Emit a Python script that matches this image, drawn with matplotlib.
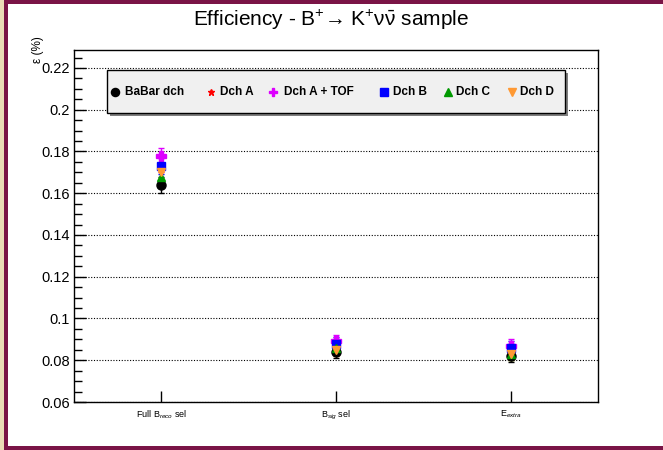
import matplotlib
matplotlib.use("Agg")
import matplotlib.pyplot as plt
from matplotlib.patches import Rectangle
from matplotlib.lines import Line2D
from matplotlib.ticker import MultipleLocator, FuncFormatter

plt.rcParams['font.family'] = ['Liberation Sans', 'DejaVu Sans']
plt.rcParams['mathtext.fontset'] = 'custom'
plt.rcParams['mathtext.rm'] = 'Liberation Sans'
plt.rcParams['mathtext.it'] = 'Liberation Sans:italic'
plt.rcParams['mathtext.bf'] = 'Liberation Sans:bold'

categories = ["Full B$_{reco}$ sel", "B$_{sig}$ sel", "E$_{extra}$"]
series_names = ["BaBar dch", "Dch A", "Dch A + TOF", "Dch B", "Dch C", "Dch D"]
babar = [0.164, 0.084, 0.082]
dch_a = [0.174, 0.087, 0.085]
dch_a_tof = [0.178, 0.089, 0.087]
dch_b = [0.173, 0.088, 0.086]
dch_c = [0.168, 0.086, 0.083]
dch_d = [0.170, 0.085, 0.083]
errors = [0.0038, 0.003, 0.003]
yticks = [0.06, 0.08, 0.10, 0.12, 0.14, 0.16, 0.18, 0.20, 0.22]

series = [babar, dch_a, dch_a_tof, dch_b, dch_c, dch_d]
colors = ['black', 'red', '#dd00ff', '#0000ff', '#009900', '#ff9933']
markers = ['o', '*', 'P', 's', '^', 'v']
msizes = [6.5, 5.5, 7, 6, 6, 6]

W, H = 663, 450
fig = plt.figure(figsize=(W/100, H/100), dpi=100)
fig.patch.set_facecolor('white')

# outer frame decoration
fig.add_artist(Rectangle((0, 0), 4/W, 1, transform=fig.transFigure, facecolor='#eadcb6', edgecolor='none'))
fig.add_artist(Rectangle((4/W, 0), 4/W, 1, transform=fig.transFigure, facecolor='#7a1446', edgecolor='none'))
fig.add_artist(Rectangle((4/W, 1-4/H), 1, 4/H, transform=fig.transFigure, facecolor='#7a1446', edgecolor='none'))
fig.add_artist(Rectangle((4/W, 0), 1, 4/H, transform=fig.transFigure, facecolor='#7a1446', edgecolor='none'))

ax = fig.add_axes([74/W, 1-402/H, 524/W, 352/H])
xpos = [0.5 + i for i in range(len(categories))]
for vals, c, m, ms in zip(series, colors, markers, msizes):
    ax.errorbar(xpos, vals, yerr=errors, fmt=m, color=c, ms=ms, mec=c, mfc=c,
                elinewidth=1, capsize=2.5, capthick=1, zorder=3)

ax.set_xlim(0, 3)
ax.set_ylim(0.06, 0.2286)
ax.set_xticks(xpos)
ax.set_xticklabels(categories, fontsize=6.5)
ax.set_yticks(yticks)
ax.yaxis.set_minor_locator(MultipleLocator(0.005))
ax.yaxis.set_major_formatter(FuncFormatter(lambda v, p: ('%.2f' % v).rstrip('0')))
ax.tick_params(axis='y', which='major', direction='in', length=8.5, width=1, labelsize=10.5, pad=3)
ax.tick_params(axis='y', which='minor', direction='in', length=5.5, width=1)
ax.tick_params(axis='x', which='major', direction='in', length=8, width=1, pad=5)
ax.tick_params(axis='x', which='minor', bottom=False)
for yv in yticks:
    ax.axhline(yv, color='black', lw=0.8, ls=(0, (1, 1.5)), zorder=1)
for s in ax.spines.values():
    s.set_linewidth(1)

fig.text(0.5, 1-20/H, "Efficiency - B$^{+}$→ K$^{+}\\mathrm{\\nu}\\bar{\\mathrm{\\nu}}$ sample",
         ha='center', va='center', fontsize=15)
fig.text(38/W, 1-50/H, "ε (%)", rotation=90, ha='center', va='center', fontsize=8.5)

# legend box
lx0, lx1, ly0, ly1 = 107, 565, 70, 113
fig.add_artist(Rectangle(((lx0+3)/W, 1-(ly1+3)/H), (lx1-lx0)/W, (ly1-ly0)/H,
                         transform=fig.transFigure, facecolor='#7f7f7f', edgecolor='none', zorder=5))
fig.add_artist(Rectangle((lx0/W, 1-ly1/H), (lx1-lx0)/W, (ly1-ly0)/H,
                         transform=fig.transFigure, facecolor='#f0f0f0', edgecolor='black', lw=1, zorder=6))
marker_x = [115, 211, 273, 384, 448, 512]
text_x = [125, 220, 284, 393, 456, 520]
ly = 92
for name, c, m, ms, mx, tx in zip(series_names, colors, markers, msizes, marker_x, text_x):
    fig.add_artist(Line2D([mx/W], [1-ly/H], marker=m, color=c, ms=ms*0.9, ls='none',
                          transform=fig.transFigure, zorder=7))
    fig.text(tx/W, 1-ly/H, name, ha='left', va='center', fontsize=8.5, fontweight='bold', zorder=7)

fig.savefig("out.png", dpi=100)
